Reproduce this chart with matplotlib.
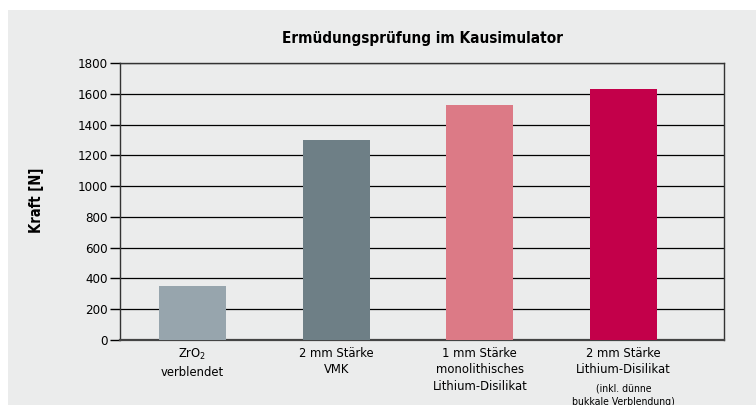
import matplotlib
matplotlib.use("Agg")
import matplotlib.pyplot as plt
from matplotlib.patches import Rectangle
from matplotlib.transforms import blended_transform_factory, offset_copy

# Data
categories = ["ZrO$_2$\nverblendet",
              "2 mm Stärke\nVMK",
              "1 mm Stärke\nmonolithisches\nLithium-Disilikat",
              "2 mm Stärke\nLithium-Disilikat"]
notes = ["", "", "", "(inkl. dünne\nbukkale Verblendung)"]
values = [350, 1300, 1530, 1630]
colors = ["#97a5ad", "#6e7f86", "#dc7a86", "#c3004a"]
yticks = [0, 200, 400, 600, 800, 1000, 1200, 1400, 1600, 1800]

# condensed face to mimic the narrow font of the original
plt.rcParams['font.family'] = ['DejaVu Sans']
plt.rcParams['font.stretch'] = 'condensed'
plt.rcParams['mathtext.fontset'] = 'custom'
plt.rcParams['mathtext.rm'] = 'DejaVu Sans:stretch=condensed'

fig = plt.figure(figsize=(7.56, 4.05), dpi=100)
fig.patch.set_facecolor("white")
# grey panel behind the chart
fig.patches.append(Rectangle((8 / 756, 0), 748 / 756, 1 - 10 / 405,
                             transform=fig.transFigure, facecolor="#ebecec",
                             edgecolor="none", zorder=-10))

ax = fig.add_axes([120 / 756, 1 - 340 / 405, 604 / 756, 277 / 405])
ax.set_facecolor("none")

x = list(range(len(values)))
ax.bar(x, values, width=0.466, color=colors, zorder=3)

ax.set_ylim(0, 1800)
ax.set_xlim(-0.505, 3.70)
ax.set_yticks(yticks)
ax.set_yticklabels([str(t) for t in yticks], fontsize=9.5)
ax.tick_params(axis="y", direction="out", length=7, width=1, color="black", pad=2)
ax.set_xticks([])
ax.yaxis.grid(True, color="black", linewidth=0.9)
ax.set_axisbelow(True)
for s in ["left", "right", "top"]:
    ax.spines[s].set_color("#333333")
    ax.spines[s].set_linewidth(1)
ax.spines["bottom"].set_color("#444444")
ax.spines["bottom"].set_linewidth(1.6)

# category labels under the bars
trans = blended_transform_factory(ax.transData, ax.transAxes)
for i, (lab, note) in enumerate(zip(categories, notes)):
    t = offset_copy(trans, fig=fig, y=-5, units="points")
    ax.text(i, 0, lab, transform=t, ha="center", va="top", fontsize=9.3,
            linespacing=1.35)
    if note:
        n_lines = lab.count("\n") + 1
        t2 = offset_copy(trans, fig=fig, y=-6 - 12.5 * n_lines, units="points")
        ax.text(i, 0, note, transform=t2, ha="center", va="top", fontsize=7.5,
                linespacing=1.55)

fig.text(422 / 756, 1 - 38 / 405, "Ermüdungsprüfung im Kausimulator",
         ha="center", va="center", fontsize=11, fontweight="bold")
fig.text(36 / 756, 1 - 200 / 405, "Kraft [N]", rotation=90,
         ha="center", va="center", fontsize=10.5, fontweight="bold")

fig.savefig("out.png", dpi=100)
